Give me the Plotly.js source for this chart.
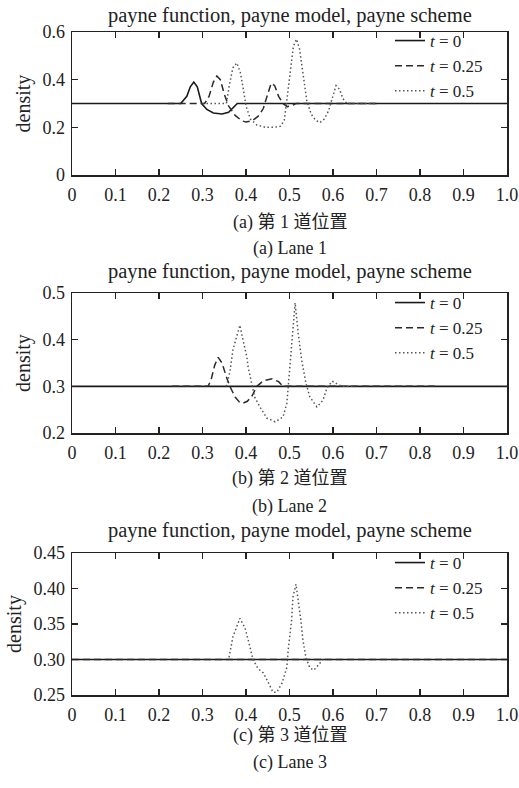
<!DOCTYPE html>
<html>
<head>
<meta charset="utf-8">
<script src="https://cdn.plot.ly/plotly-3.0.1.min.js"></script>
<style>html,body{margin:0;padding:0;background:#fff;}</style>
</head>
<body>
<div id="chart" style="width:519px;height:788px;"></div>
<script>
// ---- data ----
var xTickVals = [0, 0.1, 0.2, 0.3, 0.4, 0.5, 0.6, 0.7, 0.8, 0.9, 1.0];
var xTickText = ["0", "0.1", "0.2", "0.3", "0.4", "0.5", "0.6", "0.7", "0.8", "0.9", "1.0"];
var y1TickVals = [0, 0.2, 0.4, 0.6];
var y1TickText = ["0", "0.2", "0.4", "0.6"];
var y2TickVals = [0.2, 0.3, 0.4, 0.5];
var y2TickText = ["0.2", "0.3", "0.4", "0.5"];
var y3TickVals = [0.25, 0.30, 0.35, 0.40, 0.45];
var y3TickText = ["0.25", "0.30", "0.35", "0.40", "0.45"];
var seriesNames = ["<i>t</i> = 0", "<i>t</i> = 0.25", "<i>t</i> = 0.5"];
var plotTitle = "payne function, payne model, payne scheme";
var captionsCN = ["(a) 第 1 道位置", "(b) 第 2 道位置", "(c) 第 3 道位置"];
var captionsEN = ["(a) Lane 1", "(b) Lane 2", "(c) Lane 3"];

// Lane 1
var p1_t0_x = [0, 0.25, 0.264, 0.272, 0.28, 0.288, 0.298, 0.31, 0.325, 0.345, 0.36, 0.372, 0.38, 1.0];
var p1_t0_y = [0.3, 0.3, 0.33, 0.37, 0.39, 0.37, 0.3, 0.275, 0.26, 0.256, 0.263, 0.285, 0.3, 0.3];
var p1_t025_x = [0.22, 0.305, 0.315, 0.325, 0.333, 0.341, 0.35, 0.36, 0.375, 0.39, 0.40, 0.415, 0.43, 0.44, 0.45, 0.458, 0.466, 0.475, 0.485, 0.495, 0.505, 0.515, 0.70];
var p1_t025_y = [0.3, 0.3, 0.33, 0.39, 0.415, 0.40, 0.34, 0.29, 0.25, 0.228, 0.222, 0.228, 0.25, 0.28, 0.34, 0.385, 0.375, 0.33, 0.3, 0.287, 0.29, 0.3, 0.3];
var p1_t05_x = [0.30, 0.355, 0.362, 0.37, 0.379, 0.387, 0.393, 0.40, 0.41, 0.425, 0.445, 0.465, 0.48, 0.488, 0.495, 0.502, 0.509, 0.516, 0.523, 0.53, 0.54, 0.55, 0.56, 0.57, 0.58, 0.59, 0.598, 0.607, 0.615, 0.623, 0.632, 0.70];
var p1_t05_y = [0.3, 0.3, 0.38, 0.45, 0.47, 0.43, 0.37, 0.29, 0.235, 0.21, 0.2, 0.2, 0.205, 0.23, 0.33, 0.45, 0.54, 0.57, 0.53, 0.44, 0.31, 0.255, 0.23, 0.22, 0.235, 0.27, 0.315, 0.375, 0.36, 0.32, 0.3, 0.3];

// Lane 2
var p2_t0_x = [0, 1.0];
var p2_t0_y = [0.3, 0.3];
var p2_t025_x = [0.23, 0.313, 0.32, 0.328, 0.336, 0.345, 0.355, 0.363, 0.375, 0.385, 0.393, 0.403, 0.413, 0.425, 0.44, 0.46, 0.475, 0.485, 0.84];
var p2_t025_y = [0.3, 0.3, 0.315, 0.345, 0.362, 0.35, 0.32, 0.3, 0.277, 0.266, 0.264, 0.268, 0.278, 0.3, 0.312, 0.316, 0.31, 0.3, 0.3];
var p2_t05_x = [0.355, 0.363, 0.37, 0.379, 0.386, 0.393, 0.402, 0.405, 0.411, 0.42, 0.432, 0.448, 0.467, 0.485, 0.494, 0.499, 0.505, 0.513, 0.52, 0.528, 0.538, 0.547, 0.563, 0.577, 0.586, 0.598, 0.61, 0.62, 0.65];
var p2_t05_y = [0.3, 0.331, 0.378, 0.41, 0.431, 0.40, 0.363, 0.341, 0.314, 0.277, 0.256, 0.232, 0.224, 0.234, 0.264, 0.32, 0.40, 0.479, 0.414, 0.356, 0.306, 0.277, 0.256, 0.27, 0.296, 0.311, 0.305, 0.3, 0.3];

// Lane 3
var p3_t0_x = [0, 1.0];
var p3_t0_y = [0.3, 0.3];
var p3_t025_x = [0, 1.0];
var p3_t025_y = [0.3, 0.3];
var p3_t05_x = [0.361, 0.37, 0.386, 0.398, 0.409, 0.416, 0.428, 0.44, 0.451, 0.462, 0.471, 0.483, 0.494, 0.497, 0.505, 0.508, 0.515, 0.52, 0.526, 0.531, 0.538, 0.547, 0.556, 0.566, 0.577];
var p3_t05_y = [0.303, 0.332, 0.358, 0.344, 0.318, 0.30, 0.287, 0.281, 0.268, 0.254, 0.254, 0.267, 0.289, 0.313, 0.356, 0.388, 0.406, 0.384, 0.356, 0.327, 0.302, 0.288, 0.285, 0.292, 0.30];

// ---- styles ----
var styles = [
  {color: "#1a1a1a", width: 1.6, dash: "solid"},
  {color: "#2a2a2a", width: 1.5, dash: "7px,4px"},
  {color: "#555555", width: 1.5, dash: "1.5px,2.5px"}
];
var W = 519, H = 788;
function py(px) { return 1 - px / H; }

function tr(x, y, i, k) {
  var sfx = k === 1 ? "" : String(k);
  return {
    x: x, y: y, type: "scatter", mode: "lines",
    name: seriesNames[i],
    line: styles[i],
    xaxis: "x" + sfx, yaxis: "y" + sfx,
    legend: "legend" + sfx,
    hoverinfo: "skip"
  };
}

var data = [
  tr(p1_t0_x, p1_t0_y, 0, 1), tr(p1_t025_x, p1_t025_y, 1, 1), tr(p1_t05_x, p1_t05_y, 2, 1),
  tr(p2_t0_x, p2_t0_y, 0, 2), tr(p2_t025_x, p2_t025_y, 1, 2), tr(p2_t05_x, p2_t05_y, 2, 2),
  tr(p3_t0_x, p3_t0_y, 0, 3), tr(p3_t025_x, p3_t025_y, 1, 3), tr(p3_t05_x, p3_t05_y, 2, 3)
];

var serif = "Liberation Serif, Times New Roman, serif";
var tickFont = {family: serif, size: 18, color: "#222"};
function xax(anchor) {
  return {
    anchor: anchor, domain: [0, 1], range: [0, 1.0001],
    tickvals: xTickVals, ticktext: xTickText,
    ticks: "inside", ticklen: 6, tickwidth: 1.2, tickcolor: "#222",
    showline: true, linecolor: "#222", linewidth: 1.5, mirror: "ticks",
    showgrid: false, zeroline: false, tickfont: tickFont, ticklabelstandoff: 3,
    ticklabeloverflow: "allow",
    fixedrange: true
  };
}
function yax(anchor, dom, rng, tv, tt) {
  return {
    anchor: anchor, domain: dom, range: rng,
    tickvals: tv, ticktext: tt,
    ticks: "inside", ticklen: 6, tickwidth: 1.2, tickcolor: "#222",
    showline: true, linecolor: "#222", linewidth: 1.5, mirror: "ticks",
    showgrid: false, zeroline: false, tickfont: tickFont, ticklabelstandoff: 2,
    title: {text: "density", font: {family: serif, size: 20, color: "#222"}, standoff: 6},
    fixedrange: true
  };
}
function leg(topPx) {
  return {
    x: (390 - 72) / 435, y: py(topPx), xanchor: "left", yanchor: "top",
    bgcolor: "rgba(0,0,0,0)", borderwidth: 0, itemwidth: 30,
    font: {family: serif, size: 17, color: "#222"},
    tracegroupgap: 0
  };
}

var annFont = {family: serif + ", Noto Sans CJK SC", size: 20.5, color: "#222"};
var capFont = {family: serif + ", Noto Sans CJK SC", size: 18, color: "#222"};
function ann(text, ypx, font) {
  return {text: text, xref: "paper", yref: "paper", x: 0.5, y: py(ypx),
          xanchor: "center", yanchor: "middle", showarrow: false, font: font};
}

var layout = {
  width: W, height: H,
  margin: {l: 72, r: 12, t: 0, b: 0},
  paper_bgcolor: "#ffffff", plot_bgcolor: "#ffffff",
  showlegend: true,
  xaxis: xax("y"), yaxis: yax("x", [py(175), py(32)], [0, 0.6], y1TickVals, y1TickText),
  xaxis2: xax("y2"), yaxis2: yax("x2", [py(433), py(293)], [0.2, 0.5], y2TickVals, y2TickText),
  xaxis3: xax("y3"), yaxis3: yax("x3", [py(695), py(553)], [0.25, 0.45], y3TickVals, y3TickText),
  legend: leg(23), legend2: leg(285), legend3: leg(545),
  annotations: [
    ann(plotTitle, 15, annFont), ann(captionsCN[0], 222, capFont), ann(captionsEN[0], 248, capFont),
    ann(plotTitle, 272, annFont), ann(captionsCN[1], 478, capFont), ann(captionsEN[1], 506, capFont),
    ann(plotTitle, 530, annFont), ann(captionsCN[2], 735, capFont), ann(captionsEN[2], 762, capFont)
  ]
};

Plotly.newPlot("chart", data, layout, {staticPlot: true, displayModeBar: false});
</script>
</body>
</html>
